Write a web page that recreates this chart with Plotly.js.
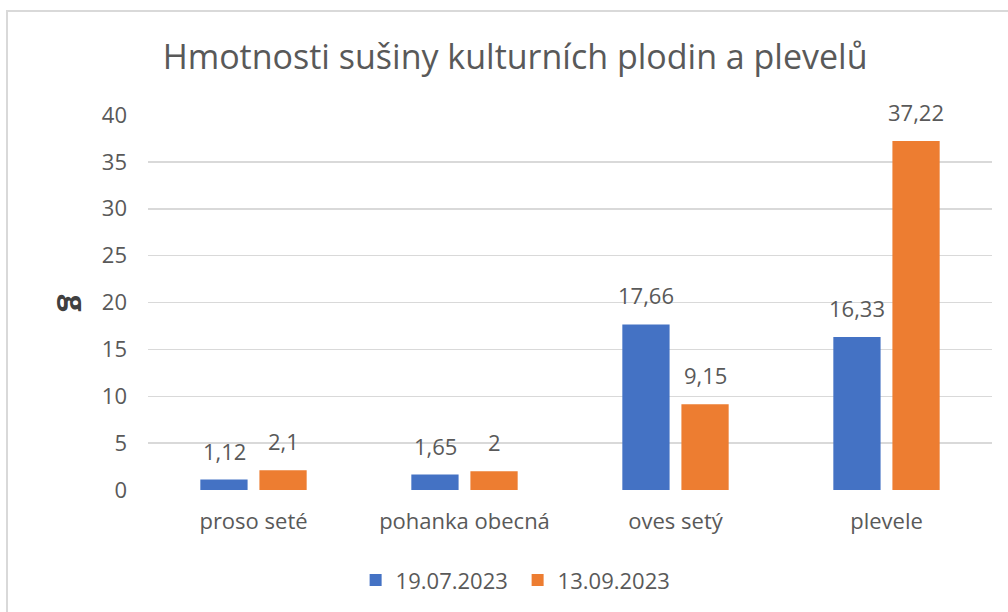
<!DOCTYPE html>
<html>
<head>
<meta charset="utf-8">
<script src="https://cdn.plot.ly/plotly-3.0.1.min.js"></script>
<style>
  html, body { margin: 0; padding: 0; background: #fff; }
  #chart { width: 1008px; height: 612px; }
  #frame { position: absolute; left: 6px; top: 10px; width: 1100px; height: 700px;
           border: 2px solid #D9D9D9; box-sizing: border-box; pointer-events: none; }
</style>
</head>
<body>
<div id="chart"></div>
<div id="frame"></div>
<script>
const categories = ["proso seté", "pohanka obecná", "oves setý", "plevele"];
const seriesNames = ["19.07.2023", "13.09.2023"];
const valuesJuly = [1.12, 1.65, 17.66, 16.33];
const valuesSept = [2.1, 2, 9.15, 37.22];
const yTicks = [0, 5, 10, 15, 20, 25, 30, 35, 40];

const textColor = "#595959";
const fontFamily = "'Open Sans', 'Noto Sans', sans-serif";
const colors = ["#4472C4", "#ED7D31"];
const fmt = v => String(v).replace(".", ",");

const seriesValues = [valuesJuly, valuesSept];
const traces = seriesValues.map((vals, i) => ({
  type: "bar",
  name: seriesNames[i],
  x: categories,
  y: vals,
  marker: { color: colors[i] },
  hoverinfo: "none"
}));

const annotations = [];
const shifts = [-29.5, 29.5];
seriesValues.forEach((vals, i) => {
  vals.forEach((v, j) => {
    annotations.push({
      x: categories[j], y: v, xref: "x", yref: "y",
      text: fmt(v), showarrow: false,
      xanchor: "center", yanchor: "bottom",
      xshift: shifts[i], yshift: 12,
      font: { family: fontFamily, size: 22, color: textColor }
    });
  });
});
annotations.push({
  x: -0.086, y: 0.498, xref: "paper", yref: "paper",
  text: "<b>g</b>", showarrow: false, textangle: 90,
  xanchor: "center", yanchor: "middle",
  font: { family: fontFamily, size: 30, color: "#404040" }
});

const layout = {
  width: 1008, height: 612,
  margin: { l: 148, r: 16, t: 115, b: 121 },
  paper_bgcolor: "rgba(0,0,0,0)", plot_bgcolor: "rgba(0,0,0,0)",
  font: { family: fontFamily, size: 22, color: textColor },
  title: {
    text: "Hmotnosti sušiny kulturních plodin a plevelů",
    font: { family: fontFamily, size: 34, color: textColor },
    x: 0.511, xanchor: "center", xref: "container",
    y: 1 - 57 / 612, yanchor: "middle", yref: "container"
  },
  barmode: "group",
  bargap: 0.44,
  bargroupgap: 0.2,
  xaxis: {
    type: "category",
    showgrid: false, showline: false, zeroline: false, ticks: "",
    ticklabelstandoff: 16,
    tickfont: { family: fontFamily, size: 22, color: textColor }
  },
  yaxis: {
    range: [0, 40],
    tickvals: yTicks,
    ticktext: yTicks.map(String),
    showgrid: true, gridcolor: "#D9D9D9", gridwidth: 1.5,
    zeroline: false, showline: false, ticks: "",
    ticklabelstandoff: 20,
    tickfont: { family: fontFamily, size: 22, color: textColor }
  },
  showlegend: true,
  legend: {
    orientation: "h",
    x: 0.246, xanchor: "left",
    y: -0.237, yanchor: "middle",
    entrywidth: 117, entrywidthmode: "pixels",
    font: { family: fontFamily, size: 22, color: textColor },
    bgcolor: "rgba(0,0,0,0)"
  },
  annotations: annotations
};

Plotly.newPlot("chart", traces, layout, { displayModeBar: false, staticPlot: true });
</script>
</body>
</html>
